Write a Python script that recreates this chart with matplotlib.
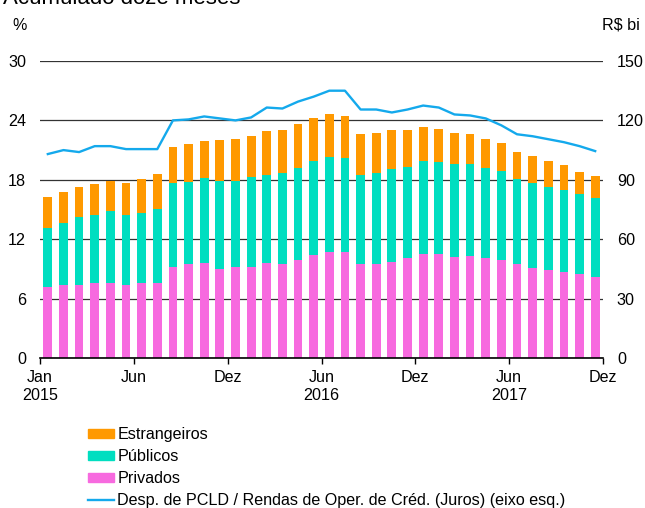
import matplotlib
matplotlib.use("Agg")
import matplotlib.pyplot as plt
import numpy as np
from matplotlib.patches import Patch
from matplotlib.lines import Line2D

plt.rcParams["font.family"] = ["Liberation Sans", "DejaVu Sans"]

# Monthly series, Jan 2015 - Dec 2017 (12-month accumulated, R$ bi)
privados = [35.7, 36.7, 37.0, 38.0, 38.0, 36.7, 37.7, 38.0, 46.2, 47.3, 47.9, 45.2,
            45.9, 45.9, 47.9, 47.3, 49.4, 52.0, 53.5, 53.5, 47.3, 47.3, 48.3, 50.3,
            52.3, 52.3, 51.0, 51.5, 50.3, 49.4, 47.3, 45.7, 44.4, 43.2, 42.2, 41.0]
publicos = [29.9, 31.6, 34.0, 34.3, 36.0, 35.3, 35.6, 37.3, 42.4, 41.8, 42.9, 44.4,
            43.7, 45.4, 44.4, 46.0, 46.6, 47.4, 47.9, 47.4, 44.9, 46.0, 47.1, 46.4,
            47.1, 46.6, 46.9, 46.4, 45.6, 44.8, 43.0, 42.6, 42.2, 41.9, 40.4, 39.6]
estrangeiros = [15.5, 15.3, 15.3, 15.5, 15.3, 16.6, 17.0, 17.5, 18.0, 19.0, 19.0, 20.7,
                21.1, 20.9, 22.1, 22.1, 22.4, 22.0, 21.7, 21.5, 21.0, 20.4, 19.5, 18.2,
                17.5, 17.0, 15.8, 15.3, 14.8, 14.4, 13.6, 13.6, 12.8, 12.3, 11.2, 11.2]
# PCLD expenses / credit operations revenue (%), left axis
pcld_ratio = [20.6, 21.0, 20.8, 21.4, 21.4, 21.1, 21.1, 21.1, 24.0, 24.1, 24.4, 24.2,
              24.0, 24.3, 25.3, 25.2, 25.9, 26.4, 27.0, 27.0, 25.1, 25.1, 24.8, 25.1,
              25.5, 25.3, 24.6, 24.5, 24.2, 23.5, 22.6, 22.4, 22.1, 21.8, 21.4, 20.9]

tick_labels = ["Jan\n2015", "Jun", "Dez", "Jun\n2016", "Dez", "Jun\n2017", "Dez"]
series_names = ["Estrangeiros", "Públicos", "Privados",
                "Desp. de PCLD / Rendas de Oper. de Créd. (Juros) (eixo esq.)"]

c_priv = "#F76ADF"
c_pub = "#00DEC0"
c_est = "#FF9900"
c_line = "#14A9EC"

FS = 11.6

W, H = 645, 508
fig = plt.figure(figsize=(W / 100, H / 100), dpi=100)
ax = fig.add_axes([40 / W, 1 - 358 / H, 563 / W, 297 / H])
ax2 = ax.twinx()

x = np.arange(len(privados))
priv = np.array(privados)
pub = np.array(publicos)
est = np.array(estrangeiros)
bw = 0.56
ax2.bar(x, priv, bw, color=c_priv, zorder=2)
ax2.bar(x, pub, bw, bottom=priv, color=c_pub, zorder=2)
ax2.bar(x, est, bw, bottom=priv + pub, color=c_est, zorder=2)
ax2.set_ylim(0, 150)
ax2.set_yticks(np.arange(0, 151, 30))
ax2.yaxis.grid(True, color="#333333", lw=0.9)
ax2.set_axisbelow(True)

ax.plot(x, pcld_ratio, color=c_line, lw=1.7, zorder=3)
ax.set_ylim(0, 30)
ax.set_yticks(np.arange(0, 31, 6))
ax.set_xlim(-0.5, len(x) - 0.5)
ax.set_zorder(ax2.get_zorder() + 1)
ax.patch.set_visible(False)

ax.set_xticks(np.arange(-0.5, len(x), 6))
ax.set_xticklabels(tick_labels, fontsize=FS, linespacing=1.25)
ax.tick_params(axis="x", length=4, width=1, direction="out", pad=5, color="black")
ax.tick_params(axis="y", length=0, pad=10, labelsize=FS)
ax2.tick_params(axis="y", length=0, pad=10, labelsize=FS)

for a in (ax, ax2):
    for s in ("top", "left", "right"):
        a.spines[s].set_visible(False)
ax2.spines["bottom"].set_visible(False)
ax.spines["bottom"].set_color("black")
ax.spines["bottom"].set_linewidth(1.2)

fig.text(20 / W, 1 - 26 / H, "%", fontsize=FS, ha="center", va="center")
fig.text(621 / W, 1 - 25 / H, "R$ bi", fontsize=FS, ha="center", va="center")
fig.text(3 / W, 1 - 4 / H, "Acumulado doze meses", fontsize=16, va="baseline")

handles = [Patch(color=c_est), Patch(color=c_pub), Patch(color=c_priv),
           Line2D([], [], color=c_line, lw=1.7)]
fig.legend(handles, series_names, loc="upper left",
           bbox_to_anchor=(88 / W, 1 - 427 / H), frameon=False, fontsize=FS,
           borderpad=0, borderaxespad=0, handlelength=1.6, handleheight=0.5,
           handletextpad=0.23, labelspacing=0.43)

fig.savefig("out.png", dpi=100)
